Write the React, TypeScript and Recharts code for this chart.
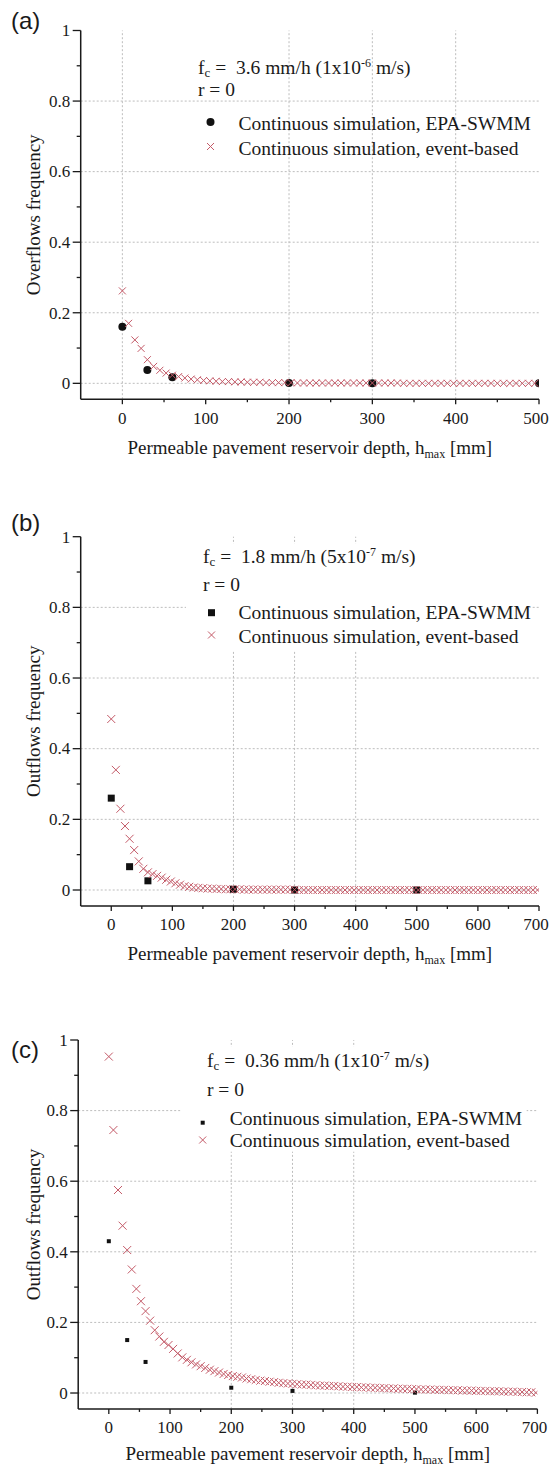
import React from 'react'
import { ScatterChart, Scatter, XAxis, YAxis, ReferenceLine } from 'recharts'

const SERIF = "'Liberation Serif', 'Times New Roman', serif"
const SANS = "'Liberation Sans', Arial, sans-serif"
const INK = '#1a1a1a'
const CROSS = '#c45a68'
const GRID = '#bdbdbd'

// reservoir depths of the event-based runs [mm]
const DEPTH = [
  0, 7.5, 15, 22.5, 30, 37.5, 45, 52.5, 60, 67.5,
  75, 82.5, 90, 97.5, 105, 112.5, 120, 127.5, 135, 142.5,
  150, 157.5, 165, 172.5, 180, 187.5, 195, 202.5, 210, 217.5,
  225, 232.5, 240, 247.5, 255, 262.5, 270, 277.5, 285, 292.5,
  300, 307.5, 315, 322.5, 330, 337.5, 345, 352.5, 360, 367.5,
  375, 382.5, 390, 397.5, 405, 412.5, 420, 427.5, 435, 442.5,
  450, 457.5, 465, 472.5, 480, 487.5, 495, 502.5, 510, 517.5,
  525, 532.5, 540, 547.5, 555, 562.5, 570, 577.5, 585, 592.5,
  600, 607.5, 615, 622.5, 630, 637.5, 645, 652.5, 660, 667.5,
  675, 682.5, 690, 697.5,
]

// (a) fc = 3.6 mm/h
const A_EVENT = [
  0.262, 0.170, 0.123, 0.099, 0.067, 0.048, 0.037, 0.029, 0.023, 0.019,
  0.015, 0.012, 0.010, 0.008, 0.007, 0.006, 0.005, 0.005, 0.004, 0.004,
  0.003, 0.003, 0.003, 0.002, 0.002, 0.002, 0.002, 0.002, 0.001, 0.001,
  0.001, 0.001, 0.001, 0.001, 0.001, 0.001, 0.001, 0.001, 0.001, 0.001,
  0.001, 0.001, 0.001, 0.001, 0.001, 0, 0, 0, 0, 0,
  0, 0, 0, 0, 0, 0, 0, 0, 0, 0,
  0, 0, 0, 0, 0, 0, 0,
]
const A_SWMM_X = [0, 30, 60, 200, 300, 500]
const A_SWMM = [0.16, 0.038, 0.017, 0.001, 0, 0]

// (b) fc = 1.8 mm/h
const B_EVENT = [
  0.484, 0.340, 0.230, 0.181, 0.145, 0.113, 0.081, 0.060, 0.050, 0.045,
  0.040, 0.035, 0.029, 0.024, 0.019, 0.015, 0.011, 0.009, 0.007, 0.006,
  0.005, 0.004, 0.004, 0.003, 0.003, 0.002, 0.002, 0.002, 0.002, 0.001,
  0.001, 0.001, 0.001, 0.001, 0.001, 0.001, 0.001, 0.001, 0.001, 0.001,
  0.001, 0, 0, 0, 0, 0, 0, 0, 0, 0,
  0, 0, 0, 0, 0, 0, 0, 0, 0, 0,
  0, 0, 0, 0, 0, 0, 0, 0, 0, 0,
  0, 0, 0, 0, 0, 0, 0, 0, 0, 0,
  0, 0, 0, 0, 0, 0, 0, 0, 0, 0,
  0, 0, 0, 0,
]
const B_SWMM_X = [0, 30, 60, 200, 300, 500]
const B_SWMM = [0.26, 0.066, 0.026, 0.002, 0, 0]

// (c) fc = 0.36 mm/h
const C_EVENT = [
  0.953, 0.745, 0.575, 0.474, 0.405, 0.350, 0.295, 0.260, 0.232, 0.205,
  0.178, 0.160, 0.145, 0.136, 0.125, 0.112, 0.101, 0.094, 0.087, 0.081,
  0.076, 0.071, 0.066, 0.062, 0.058, 0.054, 0.051, 0.048, 0.046, 0.044,
  0.041, 0.039, 0.037, 0.035, 0.034, 0.032, 0.031, 0.029, 0.028, 0.027,
  0.026, 0.025, 0.024, 0.024, 0.023, 0.022, 0.021, 0.021, 0.020, 0.020,
  0.019, 0.018, 0.018, 0.017, 0.017, 0.016, 0.016, 0.015, 0.015, 0.014,
  0.014, 0.013, 0.013, 0.012, 0.012, 0.012, 0.011, 0.011, 0.010, 0.010,
  0.010, 0.009, 0.009, 0.009, 0.008, 0.008, 0.008, 0.007, 0.007, 0.007,
  0.006, 0.006, 0.006, 0.005, 0.005, 0.005, 0.004, 0.004, 0.004, 0.003,
  0.003, 0.002, 0.002, 0.001,
]
const C_SWMM_X = [0, 30, 60, 200, 300, 500]
const C_SWMM = [0.43, 0.15, 0.088, 0.015, 0.006, 0.001]

const Y_MAJOR = [0, 0.2, 0.4, 0.6, 0.8, 1]
const Y_MINOR = [0.1, 0.3, 0.5, 0.7, 0.9]
const Y_GRID = [0, 0.2, 0.4, 0.6, 0.8]
const X_MAJOR_A = [0, 100, 200, 300, 400, 500]
const X_MINOR_A = [50, 150, 250, 350, 450]
const X_MAJOR_BC = [0, 100, 200, 300, 400, 500, 600, 700]
const X_MINOR_BC = [50, 150, 250, 350, 450, 550, 650]
const X_GRID_A = [0, 200, 300, 400]
const X_GRID_BC = [200, 300, 400]

const LEG_SWMM = 'Continuous simulation, EPA-SWMM'
const LEG_EVENT = 'Continuous simulation, event-based'
const X_TITLE = 'Permeable pavement reservoir depth, h'

type Pt = { x: number; y: number }
const pts = (xs: number[], ys: number[]): Pt[] => ys.map((y, i) => ({ x: xs[i], y }))

const crossPath = (cx: number, cy: number, h: number) =>
  `M${cx - h},${cy - h}L${cx + h},${cy + h}M${cx - h},${cy + h}L${cx + h},${cy - h}`

const crossShape = (h: number) => (p: any) =>
  <path d={crossPath(p.cx, p.cy, h)} stroke={CROSS} strokeWidth={1} fill="none" />
const dotShape = (p: any) => <circle cx={p.cx} cy={p.cy} r={4} fill="#111" />
const squareShape = (s: number) => (p: any) =>
  <rect x={p.cx - s / 2} y={p.cy - s / 2} width={s} height={s} fill="#111" />

const tickText = { fontFamily: SERIF, fontSize: 17, fill: INK }

const bottomTick = (majors: number[]) => (p: any) => {
  const major = majors.includes(p.payload.value)
  // last label sits on the page edge, nudge it so it stays whole
  const nudge = p.payload.value === majors[majors.length - 1] ? -3 : 0
  return (
    <g>
      <line x1={p.x} y1={p.y} x2={p.x} y2={p.y + (major ? 5 : 3)} stroke={INK} strokeWidth={1.3} />
      {major && <text x={p.x + nudge} y={p.y + 24.5} textAnchor="middle" {...tickText}>{p.payload.value}</text>}
    </g>
  )
}
const topTick = (majors: number[]) => (p: any) => {
  const major = majors.includes(p.payload.value)
  return <line x1={p.x} y1={p.y} x2={p.x} y2={p.y + (major ? 6 : 3)} stroke={INK} strokeWidth={1.3} />
}
const leftTick = (p: any) => {
  const major = Y_MAJOR.includes(p.payload.value)
  return (
    <g>
      <line x1={p.x - (major ? 8 : 4)} y1={p.y} x2={p.x} y2={p.y} stroke={INK} strokeWidth={1.3} />
      {major && <text x={p.x - 10.5} y={p.y + 5.8} textAnchor="end" {...tickText}>{p.payload.value}</text>}
    </g>
  )
}
const rightTick = (p: any) => {
  const major = Y_MAJOR.includes(p.payload.value)
  return <line x1={p.x - (major ? 8 : 4)} y1={p.y} x2={p.x} y2={p.y} stroke={INK} strokeWidth={1.3} />
}

const sorted = (a: number[], b: number[]) => [...a, ...b].sort((m, n) => m - n)

interface PanelProps {
  top: number
  height: number
  margin: { top: number; right: number; bottom: number; left: number }
  xMax: number
  xMajor: number[]
  xMinor: number[]
  xGrid: number[]
  event: Pt[]
  swmm: Pt[]
  swmmShape: (p: any) => JSX.Element
  crossHalf: number
  yTitle: string
  xTitleY: number
  children: React.ReactNode
}

function Panel(props: PanelProps): JSX.Element {
  const { top, height, margin, xMax, xMajor, xMinor, xGrid, event, swmm, swmmShape, crossHalf, yTitle, xTitleY } = props
  const xTicks = sorted(xMajor, xMinor)
  const yTicks = sorted(Y_MAJOR, Y_MINOR)
  const axisLine = { stroke: INK, strokeWidth: 1.5 }
  const plotTop = margin.top
  const plotBottom = height - margin.bottom - 30
  const plotLeft = margin.left + 60
  const plotRight = 550 - margin.right
  return (
    <div style={{ position: 'absolute', left: 0, top, width: 550, height }}>
      <ScatterChart width={550} height={height} margin={margin}>
        {Y_GRID.map((v) => (
          <ReferenceLine key={'h' + v} xAxisId="x" yAxisId="y" y={v} stroke={GRID} strokeDasharray="2 2" />
        ))}
        {xGrid.map((v) => (
          <ReferenceLine key={'v' + v} xAxisId="x" yAxisId="y" x={v} stroke={GRID} strokeDasharray="2 2" />
        ))}
        <XAxis xAxisId="x" type="number" dataKey="x" domain={[-50, xMax]} allowDataOverflow ticks={xTicks}
          interval={0} height={30} tickSize={0} tickMargin={0} tickLine={false} axisLine={axisLine} tick={bottomTick(xMajor)} />
        <XAxis xAxisId="xt" orientation="top" type="number" domain={[-50, xMax]} allowDataOverflow ticks={xTicks}
          interval={0} height={0} tickSize={0} tickMargin={0} tickLine={false} axisLine={axisLine} tick={topTick(xMajor)} />
        <YAxis yAxisId="y" type="number" dataKey="y" domain={[-0.045, 1]} allowDataOverflow ticks={yTicks}
          interval={0} width={60} tickSize={0} tickMargin={0} tickLine={false} axisLine={axisLine} tick={leftTick} />
        <YAxis yAxisId="yr" orientation="right" type="number" domain={[-0.045, 1]} allowDataOverflow ticks={yTicks}
          interval={0} width={0} tickSize={0} tickMargin={0} tickLine={false} axisLine={axisLine} tick={rightTick} />
        <Scatter xAxisId="x" yAxisId="y" data={swmm} shape={swmmShape} isAnimationActive={false} />
        <Scatter xAxisId="x" yAxisId="y" data={event} shape={crossShape(crossHalf)} isAnimationActive={false} />
      </ScatterChart>
      <svg width={550} height={height} style={{ position: 'absolute', left: 0, top: 0, pointerEvents: 'none' }}>
        {props.children}
        <text transform={`translate(40, ${(plotTop + plotBottom) / 2}) rotate(-90)`} textAnchor="middle"
          fontFamily={SERIF} fontSize={19} fill={INK}>{yTitle}</text>
        <text x={(plotLeft + plotRight) / 2} y={xTitleY} textAnchor="middle" fontFamily={SERIF} fontSize={19} fill={INK}>
          {X_TITLE}<tspan dy={4} fontSize={12}>max</tspan><tspan dy={-4}>{' [mm]'}</tspan>
        </text>
      </svg>
    </div>
  )
}

function Legend(props: {
  label: string; lx: number; ly: number
  fx: number; fy: number; rate: string; mant: string; exp: string; ry: number
  sx: number; tx: number; s1: number; t1: number; s2: number; t2: number
  swmmMark: JSX.Element
  box?: { x: number; y: number; w: number; h: number }
}): JSX.Element {
  const p = props
  const txt = { fontFamily: SERIF, fontSize: 19.5, fill: INK }
  return (
    <g>
      {p.box && <rect x={p.box.x} y={p.box.y} width={p.box.w} height={p.box.h} fill="#fff" />}
      <text x={p.lx} y={p.ly} fontFamily={SANS} fontSize={24} fill={INK}>{p.label}</text>
      <text x={p.fx} y={p.fy} {...txt} style={{ whiteSpace: 'pre' }}>
        f<tspan dy={3} fontSize={13}>c</tspan>
        <tspan dy={-3}>{` =  ${p.rate} mm/h (${p.mant}x10`}</tspan>
        <tspan dy={-7} fontSize={12}>{p.exp}</tspan>
        <tspan dy={7}>{' m/s)'}</tspan>
      </text>
      <text x={p.fx} y={p.ry} {...txt}>r = 0</text>
      <g transform={`translate(${p.sx}, ${p.s1})`}>{p.swmmMark}</g>
      <text x={p.tx} y={p.t1} {...txt}>{LEG_SWMM}</text>
      <path d={crossPath(p.sx, p.s2, 3.5)} stroke={CROSS} strokeWidth={1} fill="none" />
      <text x={p.tx} y={p.t2} {...txt}>{LEG_EVENT}</text>
    </g>
  )
}

export default function App(): JSX.Element {
  return (
    <div style={{ position: 'absolute', left: 0, top: 0, width: 550, height: 1470, background: '#fff', overflow: 'hidden' }}>
      <Panel top={0} height={470} margin={{ top: 30.5, right: 11, bottom: 40.8, left: 20.7 }}
        xMax={500} xMajor={X_MAJOR_A} xMinor={X_MINOR_A} xGrid={X_GRID_A}
        event={pts(DEPTH, A_EVENT)} swmm={pts(A_SWMM_X, A_SWMM)} swmmShape={dotShape} crossHalf={3.5}
        yTitle="Overflows frequency" xTitleY={454}>
        <Legend label="(a)" lx={11} ly={29} fx={198} fy={74} rate="3.6" mant="1" exp="-6" ry={96}
          sx={210.5} tx={238.5} s1={122} t1={130} s2={146.5} t2={154.5}
          swmmMark={<circle r={4} fill="#111" />} />
      </Panel>
      <Panel top={470} height={510} margin={{ top: 66.7, right: 11, bottom: 44.1, left: 20.7 }}
        xMax={700} xMajor={X_MAJOR_BC} xMinor={X_MINOR_BC} xGrid={X_GRID_BC}
        event={pts(DEPTH, B_EVENT)} swmm={pts(B_SWMM_X, B_SWMM)} swmmShape={squareShape(7)} crossHalf={4}
        yTitle="Outflows frequency" xTitleY={490}>
        <Legend label="(b)" lx={11} ly={61} fx={203} fy={93} rate="1.8" mant="5" exp="-7" ry={120.5}
          sx={211.5} tx={238.5} s1={142.7} t1={148.5} s2={165} t2={172.7}
          swmmMark={<rect x={-3.5} y={-3.5} width={7} height={7} fill="#111" />}
          box={{ x: 186, y: 74, w: 342, h: 106 }} />
      </Panel>
      <Panel top={980} height={490} margin={{ top: 60, right: 12.6, bottom: 31.1, left: 18.2 }}
        xMax={700} xMajor={X_MAJOR_BC} xMinor={X_MINOR_BC} xGrid={X_GRID_BC}
        event={pts(DEPTH, C_EVENT)} swmm={pts(C_SWMM_X, C_SWMM)} swmmShape={squareShape(4)} crossHalf={4}
        yTitle="Outflows frequency" xTitleY={480}>
        <Legend label="(c)" lx={11} ly={78} fx={207} fy={87} rate="0.36" mant="1" exp="-7" ry={115.5}
          sx={202.7} tx={229.7} s1={142.7} t1={145} s2={160} t2={166.7}
          swmmMark={<rect x={-2} y={-2} width={4} height={4} fill="#111" />}
          box={{ x: 180.6, y: 67, w: 346, h: 104.7 }} />
      </Panel>
    </div>
  )
}
